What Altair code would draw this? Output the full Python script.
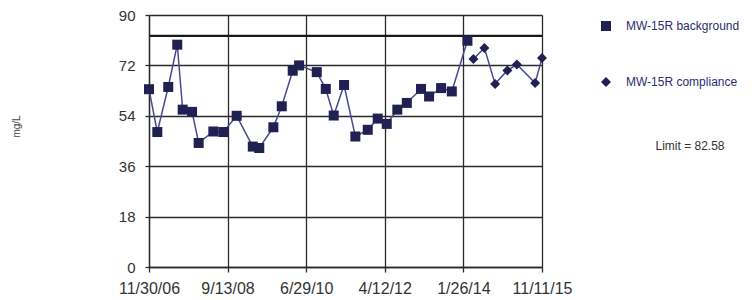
import altair as alt
import pandas as pd

series_names = ["MW-15R background", "MW-15R compliance"]

bg_dates = [
    "2006-11-30", "2007-02-07", "2007-05-09", "2007-07-23", "2007-09-06",
    "2007-11-23", "2008-01-17", "2008-05-18", "2008-08-09", "2008-11-28",
    "2009-04-11", "2009-06-04", "2009-09-29", "2009-12-08", "2010-03-09",
    "2010-05-01", "2010-09-25", "2010-12-09", "2011-02-13", "2011-05-10",
    "2011-08-12", "2011-11-23", "2012-02-14", "2012-04-29", "2012-07-26",
    "2012-10-13", "2013-02-08", "2013-04-16", "2013-07-25", "2013-10-22",
    "2014-03-01",
]
bg_values = [
    63.5, 48.2, 64.3, 79.4, 56.2,
    55.4, 44.3, 48.4, 48.2, 54.0,
    43.0, 42.5, 49.9, 57.4, 70.1,
    72.0, 69.6, 63.6, 54.1, 65.0,
    46.6, 49.0, 53.0, 51.1, 56.2,
    58.6, 63.6, 60.9, 63.9, 62.7,
    80.8,
]

cp_dates = [
    "2014-04-20", "2014-07-20", "2014-10-17", "2015-01-27", "2015-04-16",
    "2015-09-15", "2015-11-11",
]
cp_values = [74.3, 78.2, 65.4, 70.2, 72.3, 65.7, 74.6]

limit = 82.58
x_ticks = ["2006-11-30", "2008-09-13", "2010-06-29", "2012-04-12", "2014-01-26", "2015-11-11"]
y_ticks = [0, 18, 36, 54, 72, 90]

marker_color = "#202052"
line_color = "#4a4a8e"
grid_color = "#2a2a2a"
font = "Liberation Sans"


def dt(s):
    y, m, d = (int(v) for v in s.split("-"))
    return alt.DateTime(year=y, month=m, date=d, utc=True)


df = pd.DataFrame({
    "date": bg_dates + cp_dates,
    "value": bg_values + cp_values,
    "series": [series_names[0]] * len(bg_dates) + [series_names[1]] * len(cp_dates),
})

x_enc = alt.X(
    "date:T",
    scale=alt.Scale(type="utc", domain=[dt(x_ticks[0]), dt(x_ticks[-1])]),
    axis=alt.Axis(
        values=[dt(t) for t in x_ticks],
        labelExpr="utcFormat(datum.value, '%-m/%-d/%y')",
        title=None,
        labelFontSize=16,
        labelPadding=8,
        tickSize=5,
        labelFlush=False,
        labelOverlap=False,
    ),
)
y_enc = alt.Y(
    "value:Q",
    scale=alt.Scale(domain=[0, 90]),
    axis=alt.Axis(
        values=y_ticks,
        title="mg/L",
        titleX=-133,
        titleY=111,
        titleAngle=-90,
        titleAlign="center",
        titleBaseline="middle",
        titleFontSize=10,
        titleFontWeight="normal",
        titleColor="#444444",
        labelFontSize=15,
        labelPadding=10,
        tickSize=4,
    ),
)

base = alt.Chart(df)

lines = base.mark_line(color=line_color, strokeWidth=1.5).encode(
    x=x_enc, y=y_enc, detail="series:N"
)

points = base.mark_point(filled=True, opacity=1, color=marker_color, size=100).encode(
    x=x_enc,
    y=y_enc,
    shape=alt.Shape(
        "series:N",
        scale=alt.Scale(domain=series_names, range=["square", "diamond"]),
        legend=alt.Legend(
            orient="none",
            legendX=451,
            legendY=5,
            title=None,
            labelFontSize=12,
            labelFont=font,
            labelColor="#2b2d6e",
            symbolSize=100,
            symbolFillColor=marker_color,
            symbolStrokeColor=marker_color,
            symbolStrokeWidth=0,
            rowPadding=44,
            labelOffset=14,
            labelLimit=200,
            padding=0,
        ),
    ),
)

limit_rule = alt.Chart(pd.DataFrame({"limit": [limit]})).mark_rule(
    color="#1a1a1a", strokeWidth=2.2
).encode(y=alt.Y("limit:Q", scale=alt.Scale(domain=[0, 90])))

limit_text = alt.Chart(
    pd.DataFrame({"label": [f"Limit = {limit}"]})
).mark_text(align="center", baseline="middle", fontSize=12, font=font, color="#333333").encode(
    x=alt.value(541), y=alt.value(131), text="label:N"
)

chart = (
    alt.layer(lines, limit_rule, points, limit_text)
    .properties(
        width=393,
        height=252,
        autosize="none",
        padding={"left": 141, "top": 7, "right": 205, "bottom": 30},
    )
    .configure_view(stroke=None)
    .configure_axis(
        grid=True,
        gridColor=grid_color,
        gridWidth=1.3,
        gridOpacity=1,
        domainColor=grid_color,
        domainWidth=1.3,
        tickColor=grid_color,
        tickWidth=1.3,
        labelFont=font,
        titleFont=font,
        labelColor="#333333",
    )
)

chart.save("out.html", embed_options={"renderer": "svg", "actions": False})
